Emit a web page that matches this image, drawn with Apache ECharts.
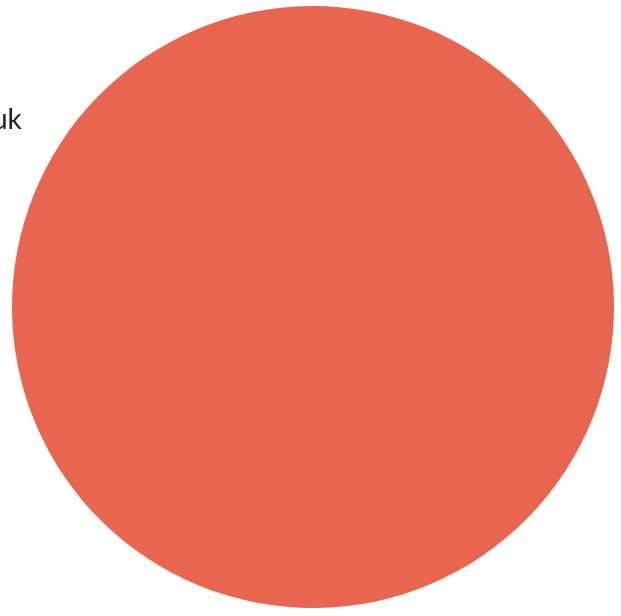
<!DOCTYPE html>
<html>
<head>
<meta charset="utf-8">
<script src="https://cdn.jsdelivr.net/npm/echarts@6/dist/echarts.min.js"></script>
<style>
  html, body { margin: 0; padding: 0; background: #fff; }
  #chart { width: 621px; height: 616px; }
</style>
</head>
<body>
<div id="chart"></div>
<script>
  const categories = ['uk']
  const values = [100]
  const colors = ['#e86550']

  let myChart = echarts.init(document.getElementById('chart'))
  let data = categories.map((name, i) => ({ name: name, value: values[i] }))
  let option = {
    animation: false,
    color: colors,
    series: [
      {
        type: 'pie',
        center: [313, 307],
        radius: 301,
        startAngle: 326.8,
        avoidLabelOverlap: false,
        label: {
          show: true,
          position: 'outside',
          fontSize: 28,
          fontFamily: 'Lato',
          color: '#222'
        },
        labelLine: { show: false, length: 41, length2: 0 },
        data: data
      }
    ]
  }
  myChart.setOption(option)
</script>
</body>
</html>
